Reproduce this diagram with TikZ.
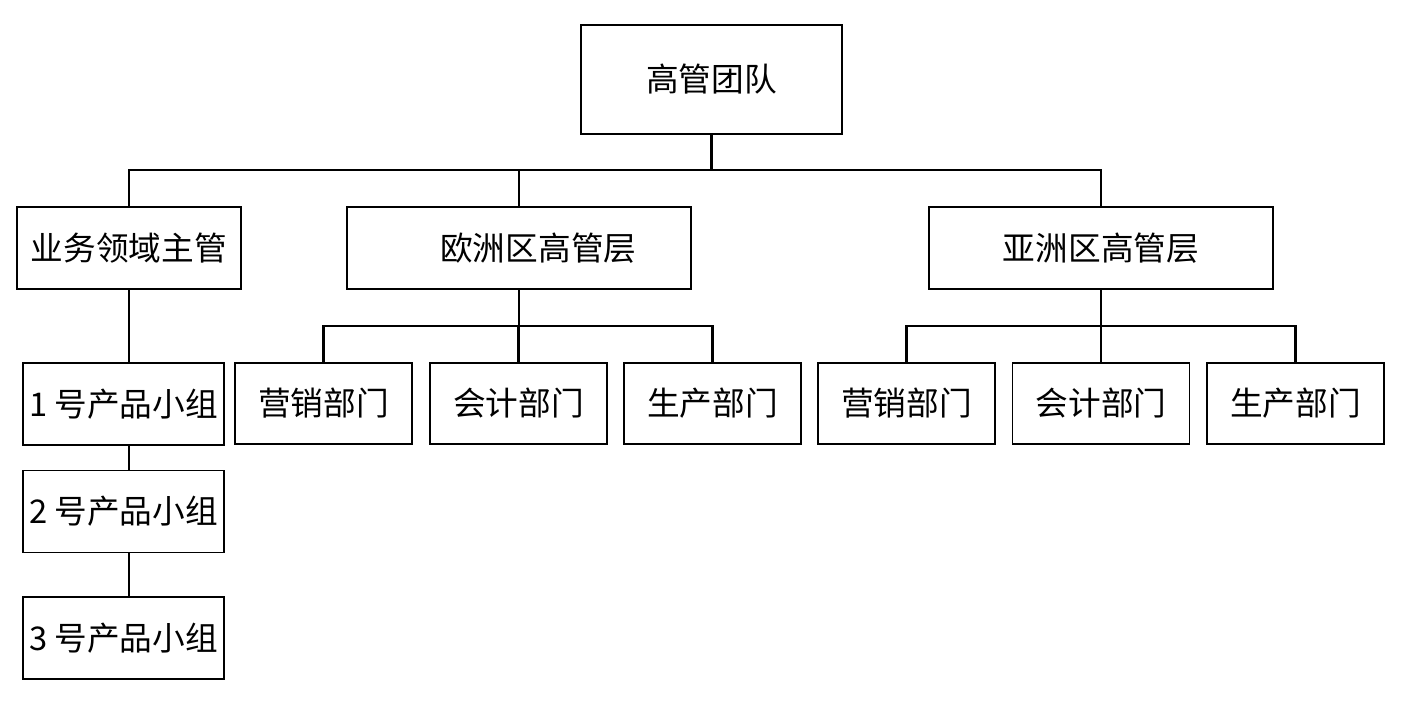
\documentclass[tikz,border=0pt]{standalone}
\usepackage{fontspec}
\setmainfont{Noto Sans CJK SC}
\usetikzlibrary{positioning}
\tikzset{unit/.style={rectangle,draw=black,line width=1.1pt,inner sep=0pt,text centered,font=\fontsize{18.6}{21}\selectfont},
  big/.style={unit,minimum width=5.22cm,minimum height=2.18cm},
  head/.style={unit,minimum width=6.88cm,minimum height=1.64cm},
  dept/.style={unit,minimum width=3.54cm,minimum height=1.62cm},
  team/.style={unit,minimum width=4.02cm,minimum height=1.64cm},
  link/.style={-,line width=1.2pt}}

\begin{document}
\begin{tikzpicture}[x=0.02cm,y=-0.02cm]
\useasboundingbox (0,0) rectangle (1404,703);

%top
\node (top) at (711.5,79.5)[big]{高管团队};

%second level
\node (biz) at (129,248)[unit,minimum width=4.48cm,minimum height=1.64cm]{业务领域主管};
\node (eu) at (519,248)[head]{\hspace{22pt}欧洲区高管层};
\node (as) at (1101,248)[head]{亚洲区高管层};
\coordinate (bus) at (711.5,170);
\draw[link] (top) -- (bus);
\draw[link] (biz.north) |- (as.north |- bus) -- (as.north);
\draw[link] (eu.north) -- (eu.north |- bus);

%europe
\node (eu1) at (323.5,403.5)[dept]{营销部门};
\node (eu2) at (518.5,403.5)[dept]{会计部门};
\node (eu3) at (712.5,403.5)[dept]{生产部门};
\coordinate (eubus) at (518.5,326);
\draw[link] (eu.south) -- (eu.south |- eubus);
\draw[link] (eu1.north) |- (eu3.north |- eubus) -- (eu3.north);
\draw[link] (eu2.north) -- (eu2.north |- eubus);

%asia
\node (as1) at (906.5,403.5)[dept]{营销部门};
\node (as2) at (1101,403.5)[dept]{会计部门};
\node (as3) at (1295.5,403.5)[dept]{生产部门};
\coordinate (asbus) at (1101,326);
\draw[link] (as.south) -- (as.south |- asbus);
\draw[link] (as1.north) |- (as3.north |- asbus) -- (as3.north);
\draw[link] (as2.north) -- (as2.north |- asbus);

%product teams
\node (p1) at (123.5,404)[team]{1 号产品小组};
\node (p2) at (123.5,511.5)[team]{2 号产品小组};
\node (p3) at (123.5,638)[team]{3 号产品小组};
\draw[link] (biz.south) -- (biz.south |- p1.north);
\draw[link] (biz.south |- p1.south) -- (biz.south |- p2.north);
\draw[link] (biz.south |- p2.south) -- (biz.south |- p3.north);

\end{tikzpicture}
\end{document}
